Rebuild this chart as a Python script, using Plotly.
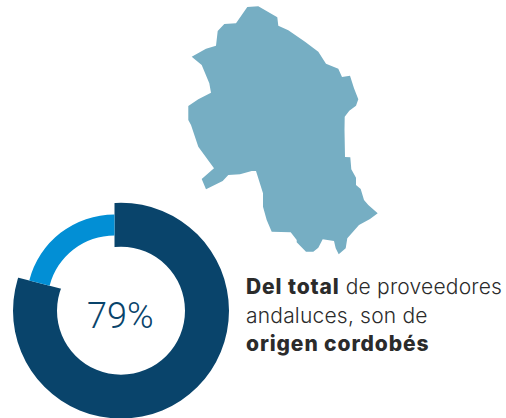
import plotly.graph_objects as go

# Data
share_labels = ["Córdoba", "Resto"]
share_values = [79, 21]
center_label = "79%"
map_x = [247.3,258.3,277.3,278.3,288.3,305,318.3,326,338.3,342,350,354,358.3,356,349.3,344.7,344.5,345,350.3,351.3,356,356,360.7,364,368.3,377.7,370,359,347.3,345.7,338.7,335.7,334,322.7,318.3,313.3,306,296.7,296.7,290.7,271.7,266.7,263,263,256,251.7,240,228.3,222.7,206,201.7,214,198.3,191,188.3,188.3,198.3,211,209.3,201.7,191.7,206,216,217.7,224.3,236]
map_y = [7,6.3,17.3,25.7,30.3,41.7,51.7,63.7,68.7,77,75.7,88.3,99.3,105.7,110.7,116.7,130,157,157.3,169.3,177.7,185,189,200,205,213.3,219,225,238.3,248.3,254.3,248.3,241,239.3,247.7,251.7,251.7,242.3,240,232.3,231.7,220,206.7,193.3,171,171,174.3,175,181,189.3,179,168.3,146.7,125,120,106,99.3,92.7,83.3,65,56.7,48.7,45.7,31,24,23.3]
B = '<span style="font-weight:800;letter-spacing:0.9px">'
N = '<span style="letter-spacing:0.2px">'
text_lines = [B + "Del total</span>" + N + " de proveedores</span>", N + "andaluces, son de</span>", B + "origen cordobés</span>"]

DARK, LIGHT, MAPC = "#09446b", "#028fd5", "#76aec3"
W, H = 506, 419
ring_c = (121, 310.7)
wedge_c = (114.5, 302.4)
R_dark, r_dark = 108, 64
R_cut = 105
R_light, r_light = 88, 67

def dom(c, half_size):
    return dict(x=[(c[0] - half_size) / W, (c[0] + half_size) / W],
                y=[1 - (c[1] + half_size) / H, 1 - (c[1] - half_size) / H])

fig = go.Figure()
fig.add_trace(go.Scatter(x=map_x, y=map_y, mode="lines", fill="toself", fillcolor=MAPC,
                         line=dict(width=0, color=MAPC), hoverinfo="skip", showlegend=False))
# full dark ring
fig.add_trace(go.Pie(values=[sum(share_values)], labels=["Total"], sort=False,
                     hole=r_dark / R_dark, domain=dom(ring_c, R_dark), textinfo="none",
                     marker=dict(colors=[DARK], line=dict(width=0)), showlegend=False))
# white wedge cutting out the minority share
fig.add_trace(go.Pie(values=share_values, labels=share_labels, sort=False, direction="clockwise",
                     rotation=0, domain=dom(wedge_c, R_cut), textinfo="none",
                     marker=dict(colors=["rgba(0,0,0,0)", "white"], line=dict(width=0)), showlegend=False))
# light ring segment
fig.add_trace(go.Pie(values=share_values, labels=share_labels, sort=False, direction="clockwise",
                     rotation=0, hole=r_light / R_light, domain=dom(wedge_c, R_light), textinfo="none",
                     marker=dict(colors=["rgba(0,0,0,0)", LIGHT], line=dict(width=0)), showlegend=False))

annotations = [dict(x=120.5, y=316, text=center_label, showarrow=False, xanchor="center", yanchor="middle",
                    font=dict(family="Roboto", size=36, color=DARK, weight=300))]
for line, y in zip(text_lines, [286, 315, 343]):
    annotations.append(dict(x=244, y=y, text=line, showarrow=False, xanchor="left", yanchor="middle",
                            font=dict(family="Inter", size=21, color="#2b2b2b", weight=300)))

fig.update_layout(width=W, height=H, margin=dict(l=0, r=0, t=0, b=0, pad=0),
                  paper_bgcolor="white", plot_bgcolor="white",
                  xaxis=dict(range=[0, W], visible=False, fixedrange=True),
                  yaxis=dict(range=[H, 0], visible=False, fixedrange=True),
                  annotations=annotations)

post = ("document.documentElement.style.overflow='hidden';document.body.style.overflow='hidden';"
        "document.body.style.margin='0';")
fig.write_html("out.html", post_script=post, config=dict(displayModeBar=False))
